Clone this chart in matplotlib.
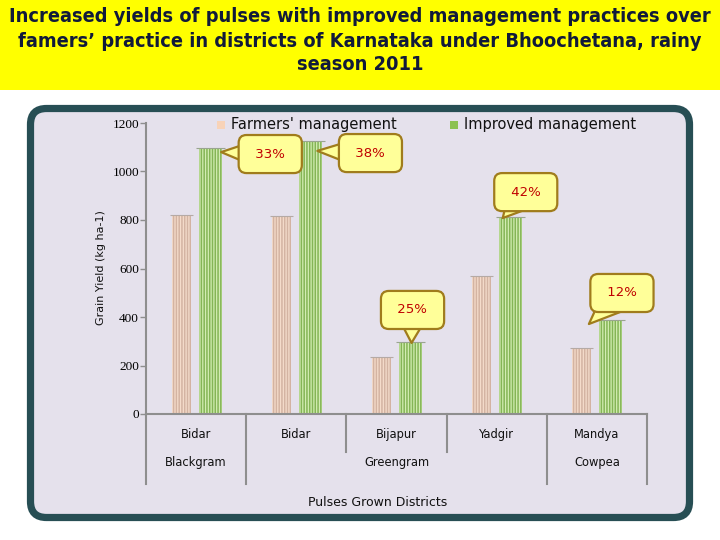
import numpy as np
import matplotlib
matplotlib.use("Agg")
import matplotlib.pyplot as plt
from matplotlib.patches import Rectangle, FancyBboxPatch
from matplotlib.transforms import IdentityTransform
from matplotlib import font_manager

# ---------------- data ----------------
districts = ["Bidar", "Bidar", "Bijapur", "Yadgir", "Mandya"]
crops = ["Blackgram", "Greengram", "Cowpea"]
crop_first = [0, 1, 4]
crop_last = [0, 3, 4]
series = ["Farmers' management", "Improved management"]
farmers = [820, 815, 235, 570, 272]
improved = [1095, 1125, 297, 812, 387]
increase = ["33%", "38%", "25%", "42%", "12%"]
yticks = [0, 200, 400, 600, 800, 1000, 1200]
title_lines = [
    "Increased yields of pulses with improved management practices over",
    "famers\u2019 practice in districts of Karnataka under Bhoochetana, rainy",
    "season 2011",
]

# ---------------- style ----------------
W, H = 720, 540
PEACH_FILL, PEACH_LINE, PEACH_KEY = "#f5dccb", "#d3b3a2", "#f8d3b8"
GREEN_FILL, GREEN_LINE, GREEN_KEY = "#d3edb2", "#84b555", "#8cc152"
GRAY = "#8e8e8e"
CALL_FC, CALL_EC, CALL_TXT = "#ffff99", "#a07c1c", "#c00000"

fig = plt.figure(figsize=(7.2, 5.4), dpi=100)
fig.patch.set_facecolor("white")

# yellow title banner
fig.add_artist(Rectangle((0, 1 - 90 / H), 1, 90 / H, transform=fig.transFigure,
                         facecolor="#ffff00", edgecolor="none", zorder=-3))
# rounded teal frame
fig.add_artist(FancyBboxPatch((30.5, 22.5), 659, 409,
                              boxstyle="round,pad=0,rounding_size=16",
                              transform=IdentityTransform(),
                              facecolor="#e5e1ec", edgecolor="#274e54",
                              linewidth=5.2, zorder=-2))

# title (fit width)
cond = any(f.name == "DejaVu Sans" and f.stretch == "condensed" for f in font_manager.fontManager.ttflist)
stretch = "condensed" if cond else "normal"
tys = [17, 42, 65]
titles = []
for line, ty in zip(title_lines, tys):
    t = fig.text(0.5, 1 - ty / H, line, ha="center", va="center", fontsize=13,
                 fontweight="bold", color="#111a3a", family="DejaVu Sans",
                 fontstretch=stretch)
    titles.append(t)
fig.canvas.draw()
w0 = titles[0].get_window_extent().width
scale = 704.0 / w0
for t in titles:
    t.set_fontsize(13 * scale)

# axes
ax = fig.add_axes([146 / W, 1 - 414 / H, 501 / W, 291 / H])
ax.set_facecolor("none")
x = np.arange(len(districts))
far_off, far_w = -0.15, 0.19
imp_off, imp_w = 0.14, 0.23

plt.rcParams["hatch.linewidth"] = 1.1
ax.bar(x + far_off, farmers, far_w, color=PEACH_FILL, edgecolor=PEACH_LINE,
       hatch="||||||", linewidth=0, zorder=2)
ax.bar(x + imp_off, improved, imp_w, color=GREEN_FILL, edgecolor=GREEN_LINE,
       hatch="||||||", linewidth=0, zorder=2)
ax.hlines(farmers, x + far_off - far_w / 2 - 0.02, x + far_off + far_w / 2 + 0.02,
          color="#b5aaa5", lw=0.8, zorder=3)
ax.hlines(improved, x + imp_off - imp_w / 2 - 0.03, x + imp_off + imp_w / 2 + 0.03,
          color="#9aa590", lw=0.8, zorder=3)

ax.set_xlim(-0.5, len(districts) - 0.5)
ax.set_ylim(0, 1200)
ax.set_yticks(yticks)
ax.tick_params(axis="y", length=4, width=1, color=GRAY, pad=1, labelsize=9.5)
for lbl in ax.get_yticklabels():
    lbl.set_family("Liberation Serif")
ax.set_xticks(x, districts)
ax.tick_params(axis="x", length=0, pad=10, labelsize=8.3, labelcolor="#111111")
for s in ["top", "right"]:
    ax.spines[s].set_visible(False)
for s in ["left", "bottom"]:
    ax.spines[s].set_color(GRAY)
    ax.spines[s].set_linewidth(1.5)

# category dividers + crop labels
trans = ax.get_xaxis_transform()
long_b = set()
for f, l in zip(crop_first, crop_last):
    long_b.add(f - 0.5)
    long_b.add(l + 0.5)
for b in np.arange(-0.5, len(districts), 1.0):
    yb = -0.24 if b in long_b else -0.13
    ax.plot([b, b], [0, yb], transform=trans, clip_on=False, color=GRAY, lw=1.5)
for c, f, l in zip(crops, crop_first, crop_last):
    ax.text((f + l) / 2, -0.168, c, transform=trans, ha="center", va="center",
            fontsize=8.3, color="#111111")

fig.text(378 / W, 1 - 502 / H, "Pulses Grown Districts", ha="center", va="center",
         fontsize=9, color="#111111")
fig.text(101 / W, 1 - 268 / H, "Grain Yield (kg ha-1)", rotation=90, ha="center",
         va="center", fontsize=8, color="#111111")

# legend (manual keys)
fig.add_artist(Rectangle((217 / W, 1 - 129 / H), 8 / W, 8 / H, transform=fig.transFigure,
                         facecolor=PEACH_KEY, edgecolor="none"))
fig.text(231 / W, 1 - 125 / H, series[0], ha="left", va="center", fontsize=10.5, color="#111111")
fig.add_artist(Rectangle((450 / W, 1 - 129 / H), 8 / W, 8 / H, transform=fig.transFigure,
                         facecolor=GREEN_KEY, edgecolor="none"))
fig.text(464 / W, 1 - 125 / H, series[1], ha="left", va="center", fontsize=10.5, color="#111111")

# callouts: (tip x, tip y, box x, box y)
callouts = [
    (0.25, 1080, 0.74, 1072),
    (1.21, 1085, 1.74, 1076),
    (2.15, 293, 2.16, 429),
    (3.06, 808, 3.29, 915),
    (3.92, 371, 4.25, 499),
]
for lab, (tx, ty, bx, by) in zip(increase, callouts):
    ax.annotate(" " + lab + " ", xy=(tx, ty), xytext=(bx, by), ha="center", va="center",
                fontsize=9.5, color=CALL_TXT, zorder=5,
                bbox=dict(boxstyle="round,pad=0.95,rounding_size=0.6", fc=CALL_FC,
                          ec=CALL_EC, lw=1.6),
                arrowprops=dict(arrowstyle="wedge,tail_width=2.8,shrink_factor=0.5",
                                fc=CALL_FC, ec=CALL_EC, lw=1.6, shrinkA=0, shrinkB=0,
                                patchA=None))

fig.savefig("out.png", dpi=100)
